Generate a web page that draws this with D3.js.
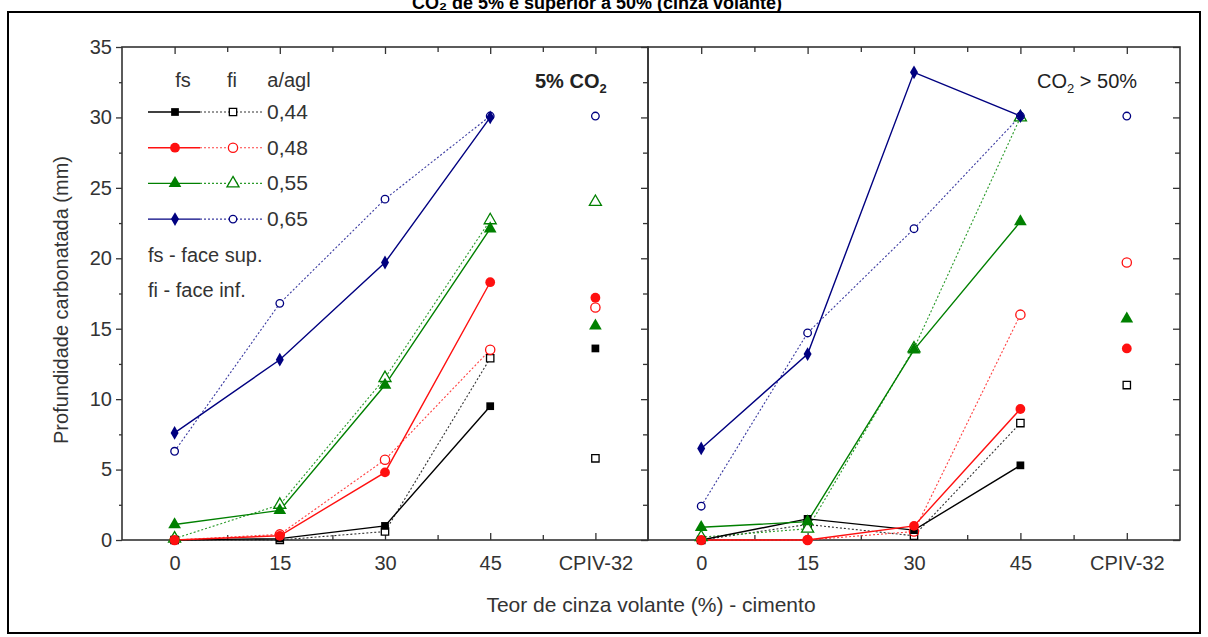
<!DOCTYPE html>
<html>
<head>
<meta charset="utf-8">
<script src="https://cdn.jsdelivr.net/npm/d3@7"></script>
<style>
  body { margin: 0; background: #fff; }
  text { font-family: "Liberation Sans", Arial, sans-serif; }
</style>
</head>
<body>
<svg id="chart" width="1208" height="637"></svg>
<script>
// categories on the x axis (teor de cinza volante)
const categories = ['0', '15', '30', '45', 'CPIV-32'];
const ratios = ['0,44', '0,48', '0,55', '0,65'];

// 5% CO2 - face superior (filled) / face inferior (open), last value is CPIV-32
const fs5 = [
  [0, 0.1, 1.0, 9.5, 13.6],
  [0, 0.3, 4.8, 18.3, 17.2],
  [1.1, 2.1, 11.0, 22.1, 15.2],
  [7.6, 12.8, 19.7, 30.0, null]
];
const fi5 = [
  [0, 0, 0.6, 12.9, 5.8],
  [0, 0.4, 5.7, 13.5, 16.5],
  [0.1, 2.5, 11.5, 22.7, 24.0],
  [6.3, 16.8, 24.2, 30.1, 30.1]
];
// CO2 > 50%
const fs50 = [
  [0, 1.5, 0.7, 5.3, null],
  [0, 0, 1.0, 9.3, 13.6],
  [0.9, 1.3, 13.5, 22.6, 15.7],
  [6.5, 13.2, 33.2, 30.1, null]
];
const fi50 = [
  [0, 1.1, 0.3, 8.3, 11.0],
  [0, 0, 0.6, 16.0, 19.7],
  [0.2, 0.8, 13.6, 30.0, null],
  [2.4, 14.7, 22.1, 30.1, 30.1]
];
const yTicks = [0, 5, 10, 15, 20, 25, 30, 35];

const colors = ['#000000', '#ff1010', '#008000', '#000080'];
const lightColors = ['#333333', '#ff4040', '#2a9a2a', '#3a3aa0'];
const shapes = [d3.symbolSquare, d3.symbolCircle, d3.symbolTriangle, d3.symbolDiamond];
const sizes = [60, 75, 70, 55];

const svg = d3.select('#chart');

// outer frame + title (cut at the top, as in the source image)
svg.append('text')
  .attr('x', 597).attr('y', 9)
  .attr('text-anchor', 'middle')
  .attr('font-size', 18).attr('font-weight', 'bold')
  .text('CO₂ de 5% e superior a 50% (cinza volante)');
svg.append('rect')
  .attr('x', 8).attr('y', 12).attr('width', 1192).attr('height', 621)
  .attr('fill', 'none').attr('stroke', '#000').attr('stroke-width', 2);

const y = d3.scaleLinear().domain([0, 35]).range([540, 47]);
const xL = d3.scaleLinear().domain([-0.5, 4.5]).range([122, 648]);
const xR = d3.scaleLinear().domain([-0.5, 4.5]).range([648, 1180]);

const axisColor = '#333';

function drawPanel(x, fsData, fiData, isLeft) {
  const g = svg.append('g');
  const majors = [0, 1, 2, 3, 4];
  const minors = [0.5, 1.5, 2.5, 3.5];
  const yMinor = [2.5, 7.5, 12.5, 17.5, 22.5, 27.5, 32.5];

  // bottom axis
  g.append('g').attr('transform', 'translate(0,540)')
    .call(d3.axisBottom(x).tickValues(majors).tickSize(-7).tickPadding(16)
      .tickFormat(i => categories[i]))
    .call(a => a.selectAll('text').attr('font-size', 20).attr('fill', '#333'));
  g.append('g').attr('transform', 'translate(0,540)')
    .call(d3.axisBottom(x).tickValues(minors).tickSize(-5).tickFormat(''));
  // top axis
  g.append('g').attr('transform', 'translate(0,47)')
    .call(d3.axisTop(x).tickValues(majors).tickSize(-7).tickFormat(''));
  g.append('g').attr('transform', 'translate(0,47)')
    .call(d3.axisTop(x).tickValues(minors).tickSize(-5).tickFormat(''));
  // right axis of the panel
  g.append('g').attr('transform', 'translate(' + x.range()[1] + ',0)')
    .call(d3.axisRight(y).tickValues(yTicks).tickSize(-7).tickFormat(''));
  g.append('g').attr('transform', 'translate(' + x.range()[1] + ',0)')
    .call(d3.axisRight(y).tickValues(yMinor).tickSize(-5).tickFormat(''));
  if (isLeft) {
    g.append('g').attr('transform', 'translate(' + x.range()[0] + ',0)')
      .call(d3.axisLeft(y).tickValues(yTicks).tickSize(6).tickPadding(4))
      .call(a => a.selectAll('text').attr('font-size', 20).attr('fill', '#333'));
    g.append('g').attr('transform', 'translate(' + x.range()[0] + ',0)')
      .call(d3.axisLeft(y).tickValues(yMinor).tickSize(3).tickFormat(''));
  }
  g.selectAll('.domain').remove();
  g.selectAll('line').attr('stroke', axisColor).attr('stroke-width', 1.3);

  g.append('rect')
    .attr('x', x.range()[0]).attr('y', 47)
    .attr('width', x.range()[1] - x.range()[0]).attr('height', 493)
    .attr('fill', 'none').attr('stroke', axisColor).attr('stroke-width', 1.6);

  const line = d3.line()
    .defined(d => d != null)
    .x((d, i) => x(i))
    .y(d => y(d));

  // dotted lines: face inferior
  fiData.forEach((vals, k) => {
    g.append('path').datum(vals.slice(0, 4))
      .attr('d', line).attr('fill', 'none')
      .attr('stroke', lightColors[k]).attr('stroke-width', 1.1)
      .attr('stroke-dasharray', '2,2');
  });
  // solid lines: face superior
  fsData.forEach((vals, k) => {
    g.append('path').datum(vals.slice(0, 4))
      .attr('d', line).attr('fill', 'none')
      .attr('stroke', colors[k]).attr('stroke-width', 1.4);
  });

  fiData.forEach((vals, k) => {
    g.selectAll(null).data(vals.map((v, i) => ({v, i})).filter(d => d.v != null))
      .enter().append('path')
      .attr('transform', d => 'translate(' + x(d.i) + ',' + y(d.v) + ')')
      .attr('d', d3.symbol(k === 3 ? d3.symbolCircle : shapes[k], k === 3 ? 45 : sizes[k] * 0.9))
      .attr('fill', '#fff').attr('stroke', colors[k]).attr('stroke-width', 1.3);
  });
  fsData.forEach((vals, k) => {
    g.selectAll(null).data(vals.map((v, i) => ({v, i})).filter(d => d.v != null))
      .enter().append('path')
      .attr('transform', d => 'translate(' + x(d.i) + ',' + y(d.v) + ')')
      .attr('d', d3.symbol(shapes[k], sizes[k]))
      .attr('fill', colors[k]);
  });
}

drawPanel(xL, fs5, fi5, true);
drawPanel(xR, fs50, fi50, false);

// panel labels
const l1 = svg.append('text').attr('x', 535).attr('y', 88)
  .attr('font-size', 20).attr('font-weight', 'bold').attr('fill', '#222');
l1.append('tspan').text('5% CO');
l1.append('tspan').attr('font-size', 13).attr('dy', 5).text('2');

const l2 = svg.append('text').attr('x', 1037).attr('y', 88)
  .attr('font-size', 20).attr('fill', '#222');
l2.append('tspan').text('CO');
l2.append('tspan').attr('font-size', 13).attr('dy', 5).text('2');
l2.append('tspan').attr('dy', -5).text(' > 50%');

// legend
const legend = svg.append('g').attr('fill', '#333');
legend.append('text').attr('x', 183).attr('y', 87).attr('text-anchor', 'middle').attr('font-size', 20).text('fs');
legend.append('text').attr('x', 232).attr('y', 87).attr('text-anchor', 'middle').attr('font-size', 20).text('fi');
legend.append('text').attr('x', 289).attr('y', 87).attr('text-anchor', 'middle').attr('font-size', 20).text('a/agl');
ratios.forEach((r, k) => {
  const ry = 112 + k * 35.7;
  legend.append('line').attr('x1', 148).attr('x2', 200).attr('y1', ry).attr('y2', ry)
    .attr('stroke', colors[k]).attr('stroke-width', 1.4);
  legend.append('line').attr('x1', 200).attr('x2', 262).attr('y1', ry).attr('y2', ry)
    .attr('stroke', lightColors[k]).attr('stroke-width', 1.1).attr('stroke-dasharray', '2,2');
  legend.append('path').attr('transform', 'translate(175,' + ry + ')')
    .attr('d', d3.symbol(shapes[k], sizes[k])).attr('fill', colors[k]);
  legend.append('path').attr('transform', 'translate(233,' + ry + ')')
    .attr('d', d3.symbol(k === 3 ? d3.symbolCircle : shapes[k], k === 3 ? 45 : sizes[k] * 0.9))
    .attr('fill', '#fff').attr('stroke', colors[k]).attr('stroke-width', 1.3);
  legend.append('text').attr('x', 267).attr('y', ry + 7).attr('font-size', 21).text(r);
});
legend.append('text').attr('x', 148).attr('y', 262).attr('font-size', 20).text('fs - face sup.');
legend.append('text').attr('x', 148).attr('y', 297).attr('font-size', 20).text('fi - face inf.');

// axis titles
svg.append('text').attr('x', 651).attr('y', 612)
  .attr('text-anchor', 'middle').attr('font-size', 21).attr('fill', '#333')
  .text('Teor de cinza volante (%) - cimento');
svg.append('text')
  .attr('transform', 'translate(68,300) rotate(-90)')
  .attr('text-anchor', 'middle').attr('font-size', 20).attr('fill', '#333')
  .text('Profundidade carbonatada (mm)');
</script>
</body>
</html>
